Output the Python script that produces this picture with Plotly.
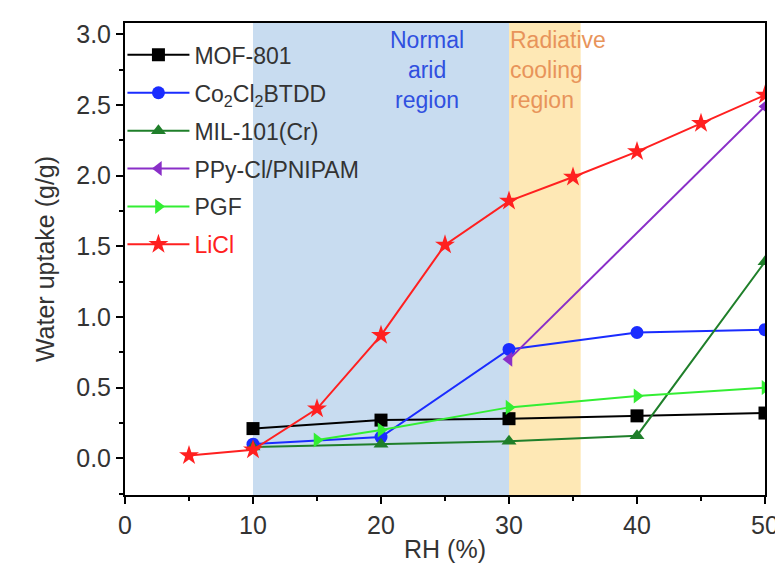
import plotly.graph_objects as go

# ---- data ----
mof_x = [10, 20, 30, 40, 50]
mof_y = [0.21, 0.27, 0.28, 0.30, 0.32]

co_x = [10, 20, 30, 40, 50]
co_y = [0.10, 0.15, 0.77, 0.89, 0.91]

mil_x = [10, 20, 30, 40, 50]
mil_y = [0.08, 0.10, 0.12, 0.16, 1.39]

ppy_x = [30, 50]
ppy_y = [0.70, 2.49]

pgf_x = [15, 20, 30, 40, 50]
pgf_y = [0.13, 0.20, 0.36, 0.44, 0.50]

licl_x = [5, 10, 15, 20, 25, 30, 35, 40, 45, 50]
licl_y = [0.02, 0.06, 0.35, 0.87, 1.51, 1.82, 1.99, 2.17, 2.37, 2.57]

x_ticks = [0, 10, 20, 30, 40, 50]
y_ticks = [0.0, 0.5, 1.0, 1.5, 2.0, 2.5, 3.0]
y_tick_labels = ["0.0", "0.5", "1.0", "1.5", "2.0", "2.5", "3.0"]

series = [
    ("MOF-801", mof_x, mof_y, "#000000", "square"),
    ("Co<sub>2</sub>Cl<sub>2</sub>BTDD", co_x, co_y, "#1a2cff", "circle"),
    ("MIL-101(Cr)", mil_x, mil_y, "#1f7f2a", "triangle-up"),
    ("PPy-Cl/PNIPAM", ppy_x, ppy_y, "#8a2fc8", "triangle-left"),
    ("PGF", pgf_x, pgf_y, "#33ee33", "triangle-right"),
    ("<span style='color:#ff2020'>LiCl</span>", licl_x, licl_y, "#ff2020", "star"),
]

FONT = "Liberation Sans, Arial, sans-serif"

fig = go.Figure()

# shaded regions
fig.add_shape(type="rect", xref="x", yref="paper", x0=10, x1=30, y0=0, y1=1,
              fillcolor="#c8dcf0", line_width=0, layer="below")
fig.add_shape(type="rect", xref="x", yref="paper", x0=30, x1=35.6, y0=0, y1=1,
              fillcolor="#fee8b5", line_width=0, layer="below")

for i, (name, xs, ys, color, sym) in enumerate(series):
    fig.add_trace(go.Scatter(
        x=xs, y=ys, name=name, mode="lines+markers",
        line=dict(color=color, width=2),
        marker=dict(symbol=sym, size=13 if sym != "star" else 15, color=color),
        legendgroup=str(i),
    ))

fig.add_annotation(x=23.6, y=0.995, xref="x", yref="paper",
                   text="Normal<br>arid<br>region", showarrow=False,
                   font=dict(family=FONT, size=23, color="#3050e0"),
                   xanchor="center", yanchor="top", align="center")
fig.add_annotation(x=29.9, y=0.995, xref="x", yref="paper",
                   text="Radiative<br>cooling<br>region", showarrow=False,
                   font=dict(family=FONT, size=23, color="#e8945a"),
                   xanchor="left", yanchor="top", align="left")

axis_common = dict(
    showline=True, linecolor="black", linewidth=2, mirror=True,
    ticks="outside", ticklen=7, tickwidth=2, tickcolor="black",
    showgrid=False, zeroline=False,
    tickfont=dict(family=FONT, size=25, color="#333"),
)

fig.update_layout(
    width=783, height=565,
    margin=dict(l=117, r=25, t=12, b=78),
    plot_bgcolor="white", paper_bgcolor="white",
    font=dict(family=FONT, size=24, color="#333"),
    showlegend=True,
    xaxis=dict(range=[0, 50], tickvals=x_ticks,
               minor=dict(ticks="outside", ticklen=4, tickwidth=2, tickcolor="black", dtick=5),
               title=dict(text="RH (%)", font=dict(family=FONT, size=25), standoff=2), **axis_common),
    yaxis=dict(range=[-0.26, 3.08], tickvals=y_ticks, ticktext=y_tick_labels,
               minor=dict(ticks="outside", ticklen=4, tickwidth=2, tickcolor="black", dtick=0.25, tick0=0),
               title=dict(text="Water uptake (g/g)", font=dict(family=FONT, size=25), standoff=14), **axis_common),
    legend=dict(x=-0.004, y=0.978, xanchor="left", yanchor="top",
                bgcolor="rgba(0,0,0,0)", itemwidth=62, tracegroupgap=5,
                traceorder="grouped",
                font=dict(family=FONT, size=23, color="#333")),
)

fig.write_html("out.html")
